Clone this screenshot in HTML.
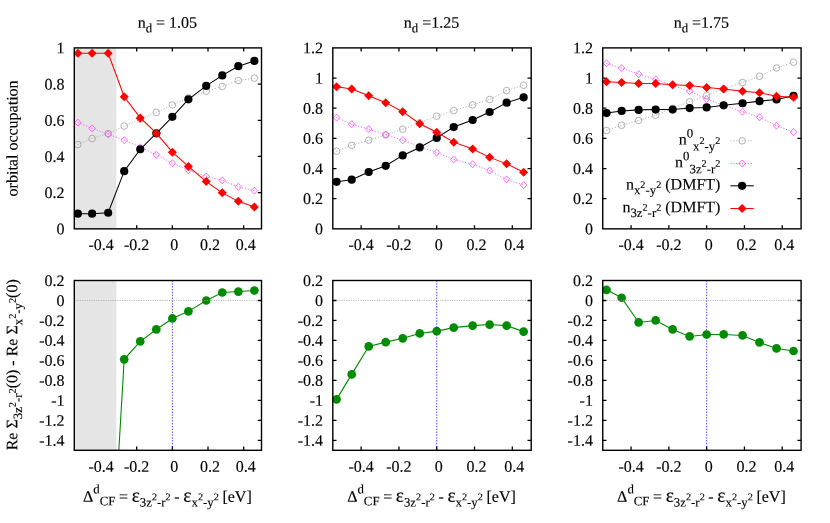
<!DOCTYPE html>
<html><head><meta charset="utf-8"><title>orbital occupation</title>
<style>
html,body{margin:0;padding:0;background:#fff;overflow:hidden}
svg{display:block;will-change:transform}
text{font-family:"Liberation Serif",serif;font-size:16px;fill:#000;text-rendering:geometricPrecision;stroke:#000;stroke-width:0.14px}
.bd{fill:none;stroke:#000;stroke-width:1.4}
.tk{stroke:#000;stroke-width:1.3;fill:none}
.lr{stroke:#ff0000;stroke-width:1.05;fill:none}
.lk{stroke:#000;stroke-width:1.05;fill:none}
.lg{stroke:#a0a0a0;stroke-width:0.85;fill:none;stroke-dasharray:1.1 1.8}
.lm{stroke:#ff40ff;stroke-width:0.85;fill:none;stroke-dasharray:1.1 1.8}
.gn{stroke:#008a00;stroke-width:1.1;fill:none}
.og{stroke:#989898;stroke-width:0.75;fill:none}
.om{stroke:#ff30ff;stroke-width:0.7;fill:none}
</style></head><body>
<svg width="830" height="523" viewBox="0 0 830 523">
<rect x="0" y="0" width="830" height="523" fill="#fff"/>
<defs>
<g id="oc"><circle r="3.3" class="og"/><circle r="0.4" fill="#c0c0c0"/></g>
<g id="od"><path d="M0,-3.5L3.25,0L0,3.5L-3.25,0Z" class="om"/><circle r="0.4" fill="#ff80ff"/></g>
<circle id="fc" r="4.1" fill="#000"/>
<path id="fd" d="M0,-4.5L4.5,0L0,4.5L-4.5,0Z" fill="#ff0000"/>
<circle id="gc" r="4.35" fill="#008a00"/>
</defs>

<g>
<path class="tk" d="M101.04,228.85v-3.7 M101.04,47.9v3.7 M136.7,228.85v-3.7 M136.7,47.9v3.7 M172.36,228.85v-3.7 M172.36,47.9v3.7 M208.01,228.85v-3.7 M208.01,47.9v3.7 M243.67,228.85v-3.7 M243.67,47.9v3.7 M74.3,192.66h3.7 M261.5,192.66h-3.7 M74.3,156.47h3.7 M261.5,156.47h-3.7 M74.3,120.28h3.7 M261.5,120.28h-3.7 M74.3,84.09h3.7 M261.5,84.09h-3.7"/>
<rect x="74.3" y="47.9" width="42.1" height="180.95" fill="#e5e5e5"/>
<polyline class="lg" points="77.87,144.53 92.13,138.56 108.17,133.49 124.22,126.07 140.27,119.19 156.31,112.32 172.36,104.9 188.4,98.02 206.23,91.15 222.28,86.44 238.32,80.47 254.37,78.12"/>
<use href="#oc" x="77.87" y="144.53"/>
<use href="#oc" x="92.13" y="138.56"/>
<use href="#oc" x="108.17" y="133.49"/>
<use href="#oc" x="124.22" y="126.07"/>
<use href="#oc" x="140.27" y="119.19"/>
<use href="#oc" x="156.31" y="112.32"/>
<use href="#oc" x="172.36" y="104.9"/>
<use href="#oc" x="188.4" y="98.02"/>
<use href="#oc" x="206.23" y="91.15"/>
<use href="#oc" x="222.28" y="86.44"/>
<use href="#oc" x="238.32" y="80.47"/>
<use href="#oc" x="254.37" y="78.12"/>
<polyline class="lm" points="77.87,122.63 92.13,128.42 108.17,134.21 124.22,140.18 140.27,147.24 156.31,154.84 172.36,163.17 188.4,170.22 206.23,176.37 222.28,180.36 238.32,186.87 254.37,190.67"/>
<use href="#od" x="77.87" y="122.63"/>
<use href="#od" x="92.13" y="128.42"/>
<use href="#od" x="108.17" y="134.21"/>
<use href="#od" x="124.22" y="140.18"/>
<use href="#od" x="140.27" y="147.24"/>
<use href="#od" x="156.31" y="154.84"/>
<use href="#od" x="172.36" y="163.17"/>
<use href="#od" x="188.4" y="170.22"/>
<use href="#od" x="206.23" y="176.37"/>
<use href="#od" x="222.28" y="180.36"/>
<use href="#od" x="238.32" y="186.87"/>
<use href="#od" x="254.37" y="190.67"/>
<polyline class="lk" points="77.87,213.65 92.13,213.65 108.17,212.75 124.22,171.13 140.27,149.23 156.31,133.31 172.36,116.84 188.4,99.29 206.23,85.9 222.28,75.4 238.32,66.18 254.37,60.93"/>
<use href="#fc" x="77.87" y="213.65"/>
<use href="#fc" x="92.13" y="213.65"/>
<use href="#fc" x="108.17" y="212.75"/>
<use href="#fc" x="124.22" y="171.13"/>
<use href="#fc" x="140.27" y="149.23"/>
<use href="#fc" x="156.31" y="133.31"/>
<use href="#fc" x="172.36" y="116.84"/>
<use href="#fc" x="188.4" y="99.29"/>
<use href="#fc" x="206.23" y="85.9"/>
<use href="#fc" x="222.28" y="75.4"/>
<use href="#fc" x="238.32" y="66.18"/>
<use href="#fc" x="254.37" y="60.93"/>
<polyline class="lr" points="77.87,53.33 92.13,53.33 108.17,53.33 124.22,96.76 140.27,117.93 156.31,133.13 172.36,152.13 188.4,166.42 206.23,181.62 222.28,192.84 238.32,201.35 254.37,206.96"/>
<use href="#fd" x="77.87" y="53.33"/>
<use href="#fd" x="92.13" y="53.33"/>
<use href="#fd" x="108.17" y="53.33"/>
<use href="#fd" x="124.22" y="96.76"/>
<use href="#fd" x="140.27" y="117.93"/>
<use href="#fd" x="156.31" y="133.13"/>
<use href="#fd" x="172.36" y="152.13"/>
<use href="#fd" x="188.4" y="166.42"/>
<use href="#fd" x="206.23" y="181.62"/>
<use href="#fd" x="222.28" y="192.84"/>
<use href="#fd" x="238.32" y="201.35"/>
<use href="#fd" x="254.37" y="206.96"/>
<rect class="bd" x="74.3" y="47.9" width="187.2" height="180.95"/>
<text transform="rotate(0.03 101.04 250.1)" x="101.04" y="250.1" text-anchor="middle">-0.4</text>
<text transform="rotate(0.03 136.7 250.1)" x="136.7" y="250.1" text-anchor="middle">-0.2</text>
<text transform="rotate(0.03 174.36 250.1)" x="174.36" y="250.1" text-anchor="middle">0</text>
<text transform="rotate(0.03 210.01 250.1)" x="210.01" y="250.1" text-anchor="middle">0.2</text>
<text transform="rotate(0.03 245.67 250.1)" x="245.67" y="250.1" text-anchor="middle">0.4</text>
<text transform="rotate(0.03 64.5 234.3)" x="64.5" y="234.3" text-anchor="end">0</text>
<text transform="rotate(0.03 64.5 198.11)" x="64.5" y="198.11" text-anchor="end">0.2</text>
<text transform="rotate(0.03 64.5 161.92)" x="64.5" y="161.92" text-anchor="end">0.4</text>
<text transform="rotate(0.03 64.5 125.73)" x="64.5" y="125.73" text-anchor="end">0.6</text>
<text transform="rotate(0.03 64.5 89.54)" x="64.5" y="89.54" text-anchor="end">0.8</text>
<text transform="rotate(0.03 64.5 53.35)" x="64.5" y="53.35" text-anchor="end">1</text>
<text transform="rotate(0.03 167.4 27.7)" x="167.4" y="27.7" text-anchor="middle">n<tspan dy="4.6" font-size="12.8">d</tspan><tspan dy="-4.6"> = 1.05</tspan></text>
</g>
<g>
<clipPath id="cp0"><rect x="74.3" y="280.5" width="187.2" height="169.8"/></clipPath>
<path class="tk" d="M101.04,450.3v-3.7 M136.7,450.3v-3.7 M172.36,450.3v-3.7 M208.01,450.3v-3.7 M243.67,450.3v-3.7 M74.3,300.48h3.7 M261.5,300.48h-3.7 M74.3,320.45h3.7 M261.5,320.45h-3.7 M74.3,340.43h3.7 M261.5,340.43h-3.7 M74.3,360.41h3.7 M261.5,360.41h-3.7 M74.3,380.38h3.7 M261.5,380.38h-3.7 M74.3,400.36h3.7 M261.5,400.36h-3.7 M74.3,420.34h3.7 M261.5,420.34h-3.7 M74.3,440.31h3.7 M261.5,440.31h-3.7"/>
<rect x="74.3" y="280.5" width="42.1" height="169.8" fill="#e5e5e5"/>
<path d="M172.36,280.5V450.3" stroke="#0000ff" stroke-width="0.75" stroke-dasharray="1.35 1.5" fill="none"/>
<g clip-path="url(#cp0)">
<polyline class="gn" points="77.87,1199.42 92.13,899.77 108.17,630.09 124.22,359.31 140.27,341.43 156.31,329.44 172.36,318.46 188.4,311.36 206.23,300.48 222.28,292.49 238.32,291.55 254.37,290.52"/>
</g>
<use href="#gc" x="124.22" y="359.31"/>
<use href="#gc" x="140.27" y="341.43"/>
<use href="#gc" x="156.31" y="329.44"/>
<use href="#gc" x="172.36" y="318.46"/>
<use href="#gc" x="188.4" y="311.36"/>
<use href="#gc" x="206.23" y="300.48"/>
<use href="#gc" x="222.28" y="292.49"/>
<use href="#gc" x="238.32" y="291.55"/>
<use href="#gc" x="254.37" y="290.52"/>
<path d="M75,300.48H257.5" stroke="#a0a0a0" stroke-width="0.75" stroke-dasharray="1.2 1.15" fill="none"/>
<rect class="bd" x="74.3" y="280.5" width="187.2" height="169.8"/>
<text transform="rotate(0.03 101.04 471.7)" x="101.04" y="471.7" text-anchor="middle">-0.4</text>
<text transform="rotate(0.03 136.7 471.7)" x="136.7" y="471.7" text-anchor="middle">-0.2</text>
<text transform="rotate(0.03 174.36 471.7)" x="174.36" y="471.7" text-anchor="middle">0</text>
<text transform="rotate(0.03 210.01 471.7)" x="210.01" y="471.7" text-anchor="middle">0.2</text>
<text transform="rotate(0.03 245.67 471.7)" x="245.67" y="471.7" text-anchor="middle">0.4</text>
<text transform="rotate(0.03 64.5 285.95)" x="64.5" y="285.95" text-anchor="end">0.2</text>
<text transform="rotate(0.03 64.5 305.93)" x="64.5" y="305.93" text-anchor="end">0</text>
<text transform="rotate(0.03 64.5 325.9)" x="64.5" y="325.9" text-anchor="end">-0.2</text>
<text transform="rotate(0.03 64.5 345.88)" x="64.5" y="345.88" text-anchor="end">-0.4</text>
<text transform="rotate(0.03 64.5 365.86)" x="64.5" y="365.86" text-anchor="end">-0.6</text>
<text transform="rotate(0.03 64.5 385.83)" x="64.5" y="385.83" text-anchor="end">-0.8</text>
<text transform="rotate(0.03 64.5 405.81)" x="64.5" y="405.81" text-anchor="end">-1</text>
<text transform="rotate(0.03 64.5 425.79)" x="64.5" y="425.79" text-anchor="end">-1.2</text>
<text transform="rotate(0.03 64.5 445.76)" x="64.5" y="445.76" text-anchor="end">-1.4</text>
<text transform="rotate(0.03 167.4 501.8)" x="167.4" y="501.8" text-anchor="middle" word-spacing="-0.4">&#916;<tspan dy="-8.6" font-size="12.8">d</tspan><tspan dy="12.2" font-size="12.8">CF</tspan><tspan dy="-3.6"> = </tspan><tspan font-size="19.5">&#949;</tspan><tspan dy="4.8" font-size="12.8">3z</tspan><tspan dy="-6.4" font-size="10.24">2</tspan><tspan dy="6.4" font-size="12.8">-r</tspan><tspan dy="-6.4" font-size="10.24">2</tspan><tspan dy="1.6"> - </tspan><tspan font-size="19.5">&#949;</tspan><tspan dy="4.8" font-size="12.8">x</tspan><tspan dy="-6.4" font-size="10.24">2</tspan><tspan dy="6.4" font-size="12.8">-y</tspan><tspan dy="-6.4" font-size="10.24">2</tspan><tspan dy="1.6"> [eV]</tspan></text>
</g>
<g>
<path class="tk" d="M361.14,228.85v-3.7 M361.14,47.9v3.7 M398.93,228.85v-3.7 M398.93,47.9v3.7 M436.72,228.85v-3.7 M436.72,47.9v3.7 M474.51,228.85v-3.7 M474.51,47.9v3.7 M512.3,228.85v-3.7 M512.3,47.9v3.7 M332.8,198.69h3.7 M531.2,198.69h-3.7 M332.8,168.53h3.7 M531.2,168.53h-3.7 M332.8,138.38h3.7 M531.2,138.38h-3.7 M332.8,108.22h3.7 M531.2,108.22h-3.7 M332.8,78.06h3.7 M531.2,78.06h-3.7"/>
<polyline class="lg" points="336.58,151.19 351.7,145.31 368.7,140.18 385.71,134.91 402.71,129.18 419.72,122.84 436.72,116.21 453.73,110.63 472.62,104.9 489.63,99.47 506.64,90.57 523.64,85.3"/>
<use href="#oc" x="336.58" y="151.19"/>
<use href="#oc" x="351.7" y="145.31"/>
<use href="#oc" x="368.7" y="140.18"/>
<use href="#oc" x="385.71" y="134.91"/>
<use href="#oc" x="402.71" y="129.18"/>
<use href="#oc" x="419.72" y="122.84"/>
<use href="#oc" x="436.72" y="116.21"/>
<use href="#oc" x="453.73" y="110.63"/>
<use href="#oc" x="472.62" y="104.9"/>
<use href="#oc" x="489.63" y="99.47"/>
<use href="#oc" x="506.64" y="90.57"/>
<use href="#oc" x="523.64" y="85.3"/>
<polyline class="lm" points="336.58,117.57 351.7,124.2 368.7,129.03 385.71,134.76 402.71,140.18 419.72,146.37 436.72,152.55 453.73,159.49 472.62,164.31 489.63,170.64 506.64,179.39 523.64,185.12"/>
<use href="#od" x="336.58" y="117.57"/>
<use href="#od" x="351.7" y="124.2"/>
<use href="#od" x="368.7" y="129.03"/>
<use href="#od" x="385.71" y="134.76"/>
<use href="#od" x="402.71" y="140.18"/>
<use href="#od" x="419.72" y="146.37"/>
<use href="#od" x="436.72" y="152.55"/>
<use href="#od" x="453.73" y="159.49"/>
<use href="#od" x="472.62" y="164.31"/>
<use href="#od" x="489.63" y="170.64"/>
<use href="#od" x="506.64" y="179.39"/>
<use href="#od" x="523.64" y="185.12"/>
<polyline class="lk" points="336.58,181.8 351.7,179.69 368.7,172 385.71,165.82 402.71,155.41 419.72,147.42 436.72,137.92 453.73,127.07 472.62,119.98 489.63,111.99 506.64,102.64 523.64,97.36"/>
<use href="#fc" x="336.58" y="181.8"/>
<use href="#fc" x="351.7" y="179.69"/>
<use href="#fc" x="368.7" y="172"/>
<use href="#fc" x="385.71" y="165.82"/>
<use href="#fc" x="402.71" y="155.41"/>
<use href="#fc" x="419.72" y="147.42"/>
<use href="#fc" x="436.72" y="137.92"/>
<use href="#fc" x="453.73" y="127.07"/>
<use href="#fc" x="472.62" y="119.98"/>
<use href="#fc" x="489.63" y="111.99"/>
<use href="#fc" x="506.64" y="102.64"/>
<use href="#fc" x="523.64" y="97.36"/>
<polyline class="lr" points="336.58,86.8 351.7,89.07 368.7,95.85 385.71,102.64 402.71,111.68 419.72,123.75 436.72,132.19 453.73,142.14 472.62,149.08 489.63,157.37 506.64,163.86 523.64,172.3"/>
<use href="#fd" x="336.58" y="86.8"/>
<use href="#fd" x="351.7" y="89.07"/>
<use href="#fd" x="368.7" y="95.85"/>
<use href="#fd" x="385.71" y="102.64"/>
<use href="#fd" x="402.71" y="111.68"/>
<use href="#fd" x="419.72" y="123.75"/>
<use href="#fd" x="436.72" y="132.19"/>
<use href="#fd" x="453.73" y="142.14"/>
<use href="#fd" x="472.62" y="149.08"/>
<use href="#fd" x="489.63" y="157.37"/>
<use href="#fd" x="506.64" y="163.86"/>
<use href="#fd" x="523.64" y="172.3"/>
<rect class="bd" x="332.8" y="47.9" width="198.4" height="180.95"/>
<text transform="rotate(0.03 361.14 250.1)" x="361.14" y="250.1" text-anchor="middle">-0.4</text>
<text transform="rotate(0.03 398.93 250.1)" x="398.93" y="250.1" text-anchor="middle">-0.2</text>
<text transform="rotate(0.03 438.72 250.1)" x="438.72" y="250.1" text-anchor="middle">0</text>
<text transform="rotate(0.03 476.51 250.1)" x="476.51" y="250.1" text-anchor="middle">0.2</text>
<text transform="rotate(0.03 514.3 250.1)" x="514.3" y="250.1" text-anchor="middle">0.4</text>
<text transform="rotate(0.03 323 234.3)" x="323" y="234.3" text-anchor="end">0</text>
<text transform="rotate(0.03 323 204.14)" x="323" y="204.14" text-anchor="end">0.2</text>
<text transform="rotate(0.03 323 173.98)" x="323" y="173.98" text-anchor="end">0.4</text>
<text transform="rotate(0.03 323 143.82)" x="323" y="143.82" text-anchor="end">0.6</text>
<text transform="rotate(0.03 323 113.67)" x="323" y="113.67" text-anchor="end">0.8</text>
<text transform="rotate(0.03 323 83.51)" x="323" y="83.51" text-anchor="end">1</text>
<text transform="rotate(0.03 323 53.35)" x="323" y="53.35" text-anchor="end">1.2</text>
<text transform="rotate(0.03 431.5 27.7)" x="431.5" y="27.7" text-anchor="middle">n<tspan dy="4.6" font-size="12.8">d</tspan><tspan dy="-4.6"> =1.25</tspan></text>
</g>
<g>
<clipPath id="cp1"><rect x="332.8" y="280.5" width="198.4" height="169.8"/></clipPath>
<path class="tk" d="M361.14,450.3v-3.7 M398.93,450.3v-3.7 M436.72,450.3v-3.7 M474.51,450.3v-3.7 M512.3,450.3v-3.7 M332.8,300.48h3.7 M531.2,300.48h-3.7 M332.8,320.45h3.7 M531.2,320.45h-3.7 M332.8,340.43h3.7 M531.2,340.43h-3.7 M332.8,360.41h3.7 M531.2,360.41h-3.7 M332.8,380.38h3.7 M531.2,380.38h-3.7 M332.8,400.36h3.7 M531.2,400.36h-3.7 M332.8,420.34h3.7 M531.2,420.34h-3.7 M332.8,440.31h3.7 M531.2,440.31h-3.7"/>
<path d="M436.72,280.5V450.3" stroke="#0000ff" stroke-width="0.75" stroke-dasharray="1.35 1.5" fill="none"/>
<g clip-path="url(#cp1)">
<polyline class="gn" points="336.58,399.36 351.7,374.39 368.7,346.42 385.71,342.13 402.71,338.33 419.72,333.44 436.72,331.14 453.73,327.64 472.62,325.65 489.63,324.55 506.64,325.65 523.64,331.64"/>
</g>
<use href="#gc" x="336.58" y="399.36"/>
<use href="#gc" x="351.7" y="374.39"/>
<use href="#gc" x="368.7" y="346.42"/>
<use href="#gc" x="385.71" y="342.13"/>
<use href="#gc" x="402.71" y="338.33"/>
<use href="#gc" x="419.72" y="333.44"/>
<use href="#gc" x="436.72" y="331.14"/>
<use href="#gc" x="453.73" y="327.64"/>
<use href="#gc" x="472.62" y="325.65"/>
<use href="#gc" x="489.63" y="324.55"/>
<use href="#gc" x="506.64" y="325.65"/>
<use href="#gc" x="523.64" y="331.64"/>
<path d="M336.8,300.48H527.2" stroke="#a0a0a0" stroke-width="0.75" stroke-dasharray="1.2 1.15" fill="none"/>
<rect class="bd" x="332.8" y="280.5" width="198.4" height="169.8"/>
<text transform="rotate(0.03 361.14 471.7)" x="361.14" y="471.7" text-anchor="middle">-0.4</text>
<text transform="rotate(0.03 398.93 471.7)" x="398.93" y="471.7" text-anchor="middle">-0.2</text>
<text transform="rotate(0.03 438.72 471.7)" x="438.72" y="471.7" text-anchor="middle">0</text>
<text transform="rotate(0.03 476.51 471.7)" x="476.51" y="471.7" text-anchor="middle">0.2</text>
<text transform="rotate(0.03 514.3 471.7)" x="514.3" y="471.7" text-anchor="middle">0.4</text>
<text transform="rotate(0.03 323 285.95)" x="323" y="285.95" text-anchor="end">0.2</text>
<text transform="rotate(0.03 323 305.93)" x="323" y="305.93" text-anchor="end">0</text>
<text transform="rotate(0.03 323 325.9)" x="323" y="325.9" text-anchor="end">-0.2</text>
<text transform="rotate(0.03 323 345.88)" x="323" y="345.88" text-anchor="end">-0.4</text>
<text transform="rotate(0.03 323 365.86)" x="323" y="365.86" text-anchor="end">-0.6</text>
<text transform="rotate(0.03 323 385.83)" x="323" y="385.83" text-anchor="end">-0.8</text>
<text transform="rotate(0.03 323 405.81)" x="323" y="405.81" text-anchor="end">-1</text>
<text transform="rotate(0.03 323 425.79)" x="323" y="425.79" text-anchor="end">-1.2</text>
<text transform="rotate(0.03 323 445.76)" x="323" y="445.76" text-anchor="end">-1.4</text>
<text transform="rotate(0.03 431.5 501.8)" x="431.5" y="501.8" text-anchor="middle" word-spacing="-0.4">&#916;<tspan dy="-8.6" font-size="12.8">d</tspan><tspan dy="12.2" font-size="12.8">CF</tspan><tspan dy="-3.6"> = </tspan><tspan font-size="19.5">&#949;</tspan><tspan dy="4.8" font-size="12.8">3z</tspan><tspan dy="-6.4" font-size="10.24">2</tspan><tspan dy="6.4" font-size="12.8">-r</tspan><tspan dy="-6.4" font-size="10.24">2</tspan><tspan dy="1.6"> - </tspan><tspan font-size="19.5">&#949;</tspan><tspan dy="4.8" font-size="12.8">x</tspan><tspan dy="-6.4" font-size="10.24">2</tspan><tspan dy="6.4" font-size="12.8">-y</tspan><tspan dy="-6.4" font-size="10.24">2</tspan><tspan dy="1.6"> [eV]</tspan></text>
</g>
<g>
<path class="tk" d="M631.09,228.85v-3.7 M631.09,47.9v3.7 M668.87,228.85v-3.7 M668.87,47.9v3.7 M706.65,228.85v-3.7 M706.65,47.9v3.7 M744.43,228.85v-3.7 M744.43,47.9v3.7 M782.21,228.85v-3.7 M782.21,47.9v3.7 M602.75,198.69h3.7 M801.1,198.69h-3.7 M602.75,168.53h3.7 M801.1,168.53h-3.7 M602.75,138.38h3.7 M801.1,138.38h-3.7 M602.75,108.22h3.7 M801.1,108.22h-3.7 M602.75,78.06h3.7 M801.1,78.06h-3.7"/>
<polyline class="lg" points="606.53,130.53 621.64,125.26 638.64,120.43 655.64,115.15 672.64,108.37 689.65,101.73 706.65,95.55 723.65,88.92 742.54,82.58 759.54,76.25 776.54,67.96 793.54,62.23"/>
<use href="#oc" x="606.53" y="130.53"/>
<use href="#oc" x="621.64" y="125.26"/>
<use href="#oc" x="638.64" y="120.43"/>
<use href="#oc" x="655.64" y="115.15"/>
<use href="#oc" x="672.64" y="108.37"/>
<use href="#oc" x="689.65" y="101.73"/>
<use href="#oc" x="706.65" y="95.55"/>
<use href="#oc" x="723.65" y="88.92"/>
<use href="#oc" x="742.54" y="82.58"/>
<use href="#oc" x="759.54" y="76.25"/>
<use href="#oc" x="776.54" y="67.96"/>
<use href="#oc" x="793.54" y="62.23"/>
<polyline class="lm" points="606.53,63.28 621.64,68.11 638.64,74.14 655.64,79.42 672.64,85.3 689.65,91.18 706.65,99.02 723.65,105.35 742.54,111.68 759.54,117.26 776.54,125.71 793.54,132.04"/>
<use href="#od" x="606.53" y="63.28"/>
<use href="#od" x="621.64" y="68.11"/>
<use href="#od" x="638.64" y="74.14"/>
<use href="#od" x="655.64" y="79.42"/>
<use href="#od" x="672.64" y="85.3"/>
<use href="#od" x="689.65" y="91.18"/>
<use href="#od" x="706.65" y="99.02"/>
<use href="#od" x="723.65" y="105.35"/>
<use href="#od" x="742.54" y="111.68"/>
<use href="#od" x="759.54" y="117.26"/>
<use href="#od" x="776.54" y="125.71"/>
<use href="#od" x="793.54" y="132.04"/>
<polyline class="lk" points="606.53,113.04 621.64,110.93 638.64,109.88 655.64,109.57 672.64,109.57 689.65,108.07 706.65,107.46 723.65,105.35 742.54,103.24 759.54,101.13 776.54,99.47 793.54,95.85"/>
<use href="#fc" x="606.53" y="113.04"/>
<use href="#fc" x="621.64" y="110.93"/>
<use href="#fc" x="638.64" y="109.88"/>
<use href="#fc" x="655.64" y="109.57"/>
<use href="#fc" x="672.64" y="109.57"/>
<use href="#fc" x="689.65" y="108.07"/>
<use href="#fc" x="706.65" y="107.46"/>
<use href="#fc" x="723.65" y="105.35"/>
<use href="#fc" x="742.54" y="103.24"/>
<use href="#fc" x="759.54" y="101.13"/>
<use href="#fc" x="776.54" y="99.47"/>
<use href="#fc" x="793.54" y="95.85"/>
<polyline class="lr" points="606.53,81.68 621.64,82.58 638.64,83.49 655.64,83.49 672.64,84.84 689.65,85.6 706.65,87.41 723.65,89.07 742.54,91.18 759.54,92.69 776.54,96.3 793.54,97.36"/>
<use href="#fd" x="606.53" y="81.68"/>
<use href="#fd" x="621.64" y="82.58"/>
<use href="#fd" x="638.64" y="83.49"/>
<use href="#fd" x="655.64" y="83.49"/>
<use href="#fd" x="672.64" y="84.84"/>
<use href="#fd" x="689.65" y="85.6"/>
<use href="#fd" x="706.65" y="87.41"/>
<use href="#fd" x="723.65" y="89.07"/>
<use href="#fd" x="742.54" y="91.18"/>
<use href="#fd" x="759.54" y="92.69"/>
<use href="#fd" x="776.54" y="96.3"/>
<use href="#fd" x="793.54" y="97.36"/>
<rect class="bd" x="602.75" y="47.9" width="198.35" height="180.95"/>
<text transform="rotate(0.03 631.09 250.1)" x="631.09" y="250.1" text-anchor="middle">-0.4</text>
<text transform="rotate(0.03 668.87 250.1)" x="668.87" y="250.1" text-anchor="middle">-0.2</text>
<text transform="rotate(0.03 708.65 250.1)" x="708.65" y="250.1" text-anchor="middle">0</text>
<text transform="rotate(0.03 746.43 250.1)" x="746.43" y="250.1" text-anchor="middle">0.2</text>
<text transform="rotate(0.03 784.21 250.1)" x="784.21" y="250.1" text-anchor="middle">0.4</text>
<text transform="rotate(0.03 592.95 234.3)" x="592.95" y="234.3" text-anchor="end">0</text>
<text transform="rotate(0.03 592.95 204.14)" x="592.95" y="204.14" text-anchor="end">0.2</text>
<text transform="rotate(0.03 592.95 173.98)" x="592.95" y="173.98" text-anchor="end">0.4</text>
<text transform="rotate(0.03 592.95 143.82)" x="592.95" y="143.82" text-anchor="end">0.6</text>
<text transform="rotate(0.03 592.95 113.67)" x="592.95" y="113.67" text-anchor="end">0.8</text>
<text transform="rotate(0.03 592.95 83.51)" x="592.95" y="83.51" text-anchor="end">1</text>
<text transform="rotate(0.03 592.95 53.35)" x="592.95" y="53.35" text-anchor="end">1.2</text>
<text transform="rotate(0.03 701.42 27.7)" x="701.42" y="27.7" text-anchor="middle">n<tspan dy="4.6" font-size="12.8">d</tspan><tspan dy="-4.6"> =1.75</tspan></text>
</g>
<g>
<clipPath id="cp2"><rect x="602.75" y="280.5" width="198.35" height="169.8"/></clipPath>
<path class="tk" d="M631.09,450.3v-3.7 M668.87,450.3v-3.7 M706.65,450.3v-3.7 M744.43,450.3v-3.7 M782.21,450.3v-3.7 M602.75,300.48h3.7 M801.1,300.48h-3.7 M602.75,320.45h3.7 M801.1,320.45h-3.7 M602.75,340.43h3.7 M801.1,340.43h-3.7 M602.75,360.41h3.7 M801.1,360.41h-3.7 M602.75,380.38h3.7 M801.1,380.38h-3.7 M602.75,400.36h3.7 M801.1,400.36h-3.7 M602.75,420.34h3.7 M801.1,420.34h-3.7 M602.75,440.31h3.7 M801.1,440.31h-3.7"/>
<path d="M706.65,280.5V450.3" stroke="#0000ff" stroke-width="0.75" stroke-dasharray="1.35 1.5" fill="none"/>
<g clip-path="url(#cp2)">
<polyline class="gn" points="606.53,289.84 621.64,297.73 638.64,322.45 655.64,320.45 672.64,329.44 689.65,336.43 706.65,334.54 723.65,334.44 742.54,335.44 759.54,342.43 776.54,348.42 793.54,351.02"/>
</g>
<use href="#gc" x="606.53" y="289.84"/>
<use href="#gc" x="621.64" y="297.73"/>
<use href="#gc" x="638.64" y="322.45"/>
<use href="#gc" x="655.64" y="320.45"/>
<use href="#gc" x="672.64" y="329.44"/>
<use href="#gc" x="689.65" y="336.43"/>
<use href="#gc" x="706.65" y="334.54"/>
<use href="#gc" x="723.65" y="334.44"/>
<use href="#gc" x="742.54" y="335.44"/>
<use href="#gc" x="759.54" y="342.43"/>
<use href="#gc" x="776.54" y="348.42"/>
<use href="#gc" x="793.54" y="351.02"/>
<path d="M606.75,300.48H797.1" stroke="#a0a0a0" stroke-width="0.75" stroke-dasharray="1.2 1.15" fill="none"/>
<rect class="bd" x="602.75" y="280.5" width="198.35" height="169.8"/>
<text transform="rotate(0.03 631.09 471.7)" x="631.09" y="471.7" text-anchor="middle">-0.4</text>
<text transform="rotate(0.03 668.87 471.7)" x="668.87" y="471.7" text-anchor="middle">-0.2</text>
<text transform="rotate(0.03 708.65 471.7)" x="708.65" y="471.7" text-anchor="middle">0</text>
<text transform="rotate(0.03 746.43 471.7)" x="746.43" y="471.7" text-anchor="middle">0.2</text>
<text transform="rotate(0.03 784.21 471.7)" x="784.21" y="471.7" text-anchor="middle">0.4</text>
<text transform="rotate(0.03 592.95 285.95)" x="592.95" y="285.95" text-anchor="end">0.2</text>
<text transform="rotate(0.03 592.95 305.93)" x="592.95" y="305.93" text-anchor="end">0</text>
<text transform="rotate(0.03 592.95 325.9)" x="592.95" y="325.9" text-anchor="end">-0.2</text>
<text transform="rotate(0.03 592.95 345.88)" x="592.95" y="345.88" text-anchor="end">-0.4</text>
<text transform="rotate(0.03 592.95 365.86)" x="592.95" y="365.86" text-anchor="end">-0.6</text>
<text transform="rotate(0.03 592.95 385.83)" x="592.95" y="385.83" text-anchor="end">-0.8</text>
<text transform="rotate(0.03 592.95 405.81)" x="592.95" y="405.81" text-anchor="end">-1</text>
<text transform="rotate(0.03 592.95 425.79)" x="592.95" y="425.79" text-anchor="end">-1.2</text>
<text transform="rotate(0.03 592.95 445.76)" x="592.95" y="445.76" text-anchor="end">-1.4</text>
<text transform="rotate(0.03 701.42 501.8)" x="701.42" y="501.8" text-anchor="middle" word-spacing="-0.4">&#916;<tspan dy="-8.6" font-size="12.8">d</tspan><tspan dy="12.2" font-size="12.8">CF</tspan><tspan dy="-3.6"> = </tspan><tspan font-size="19.5">&#949;</tspan><tspan dy="4.8" font-size="12.8">3z</tspan><tspan dy="-6.4" font-size="10.24">2</tspan><tspan dy="6.4" font-size="12.8">-r</tspan><tspan dy="-6.4" font-size="10.24">2</tspan><tspan dy="1.6"> - </tspan><tspan font-size="19.5">&#949;</tspan><tspan dy="4.8" font-size="12.8">x</tspan><tspan dy="-6.4" font-size="10.24">2</tspan><tspan dy="6.4" font-size="12.8">-y</tspan><tspan dy="-6.4" font-size="10.24">2</tspan><tspan dy="1.6"> [eV]</tspan></text>
</g>
<text transform="translate(17.5,138.4) rotate(-89.97)" text-anchor="middle">orbital occupation</text>
<text transform="translate(17.3,364.8) rotate(-89.97)" text-anchor="middle">Re &#931;<tspan dy="4.8" font-size="12.8">3z</tspan><tspan dy="-6.4" font-size="10.24">2</tspan><tspan dy="6.4" font-size="12.8">-r</tspan><tspan dy="-6.4" font-size="10.24">2</tspan><tspan dy="1.6">(0) - Re &#931;</tspan><tspan dy="4.8" font-size="12.8">x</tspan><tspan dy="-6.4" font-size="10.24">2</tspan><tspan dy="6.4" font-size="12.8">-y</tspan><tspan dy="-6.4" font-size="10.24">2</tspan><tspan dy="1.6">(0)</tspan></text>
<text transform="rotate(0.03 720.4 144.6)" x="720.4" y="144.6" text-anchor="end">n<tspan dy="-7" font-size="12.8">0</tspan><tspan dy="8.1" font-size="0.1"> </tspan><tspan dy="4.8" font-size="12.8">x</tspan><tspan dy="-6.4" font-size="10.24">2</tspan><tspan dy="6.4" font-size="12.8">-y</tspan><tspan dy="-6.4" font-size="10.24">2</tspan></text>
<text transform="rotate(0.03 720.4 167.3)" x="720.4" y="167.3" text-anchor="end">n<tspan dy="-7" font-size="12.8">0</tspan><tspan dy="8.1" font-size="0.1"> </tspan><tspan dy="4.8" font-size="12.8">3z</tspan><tspan dy="-6.4" font-size="10.24">2</tspan><tspan dy="6.4" font-size="12.8">-r</tspan><tspan dy="-6.4" font-size="10.24">2</tspan></text>
<text transform="rotate(0.03 720.4 189.6)" x="720.4" y="189.6" text-anchor="end">n<tspan dy="4.8" font-size="12.8">x</tspan><tspan dy="-6.4" font-size="10.24">2</tspan><tspan dy="6.4" font-size="12.8">-y</tspan><tspan dy="-6.4" font-size="10.24">2</tspan><tspan dy="1.6"> (DMFT)</tspan></text>
<text transform="rotate(0.03 720.4 212.3)" x="720.4" y="212.3" text-anchor="end">n<tspan dy="4.8" font-size="12.8">3z</tspan><tspan dy="-6.4" font-size="10.24">2</tspan><tspan dy="6.4" font-size="12.8">-r</tspan><tspan dy="-6.4" font-size="10.24">2</tspan><tspan dy="1.6"> (DMFT)</tspan></text>
<path class="lg" d="M730.4,140.8H752.2"/>
<use href="#oc" x="742.1" y="140.8"/>
<path class="lm" d="M730.4,163.5H752.2"/>
<use href="#od" x="742.1" y="163.5"/>
<path class="lk" d="M730.4,185.8H753.8"/>
<use href="#fc" x="742.1" y="185.8"/>
<path class="lr" d="M730.4,208.5H753.8"/>
<use href="#fd" x="742.1" y="208.5"/>
</svg></body></html>
